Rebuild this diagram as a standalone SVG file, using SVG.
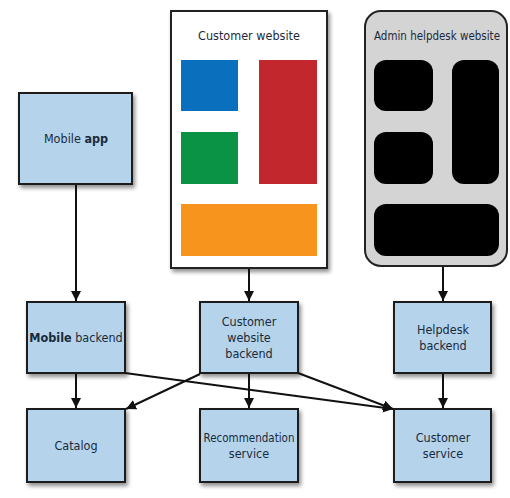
<svg xmlns="http://www.w3.org/2000/svg" width="510" height="498" viewBox="0 0 510 498">
<defs>
<marker id="arr" viewBox="0 0 10 10" refX="10" refY="5" markerWidth="10" markerHeight="10" markerUnits="userSpaceOnUse" orient="auto">
<path d="M0,0 L10,5 L0,10 z" fill="#111"/>
</marker>
<filter id="sh" x="-10%" y="-10%" width="125%" height="125%">
<feGaussianBlur in="SourceAlpha" stdDeviation="2"/>
<feOffset dx="2" dy="3"/>
<feComponentTransfer><feFuncA type="linear" slope="0.45"/></feComponentTransfer>
<feMerge><feMergeNode/><feMergeNode in="SourceGraphic"/></feMerge>
</filter>
</defs>
<style>
.box{fill:#b5d4ec;stroke:#1a1a1a;stroke-width:2;filter:url(#sh)}
.t{font-family:"DejaVu Sans Condensed","Liberation Sans",sans-serif;font-stretch:condensed;font-size:12.5px;fill:#1a2a3a;text-anchor:middle}
.b{font-weight:bold}
.c{stroke:#111;stroke-width:2;fill:none;marker-end:url(#arr)}
.blk{fill:#000}
</style>
<rect width="510" height="498" fill="#fff"/>
<g id="mobile-app"><rect class="box" x="19" y="93" width="113" height="91"/><text class="t" x="76" y="143">Mobile <tspan class="b">app</tspan></text></g>
<g id="customer-website">
<rect x="171" y="11" width="156" height="257" fill="#fff" stroke="#222" stroke-width="2" style="filter:url(#sh)"/>
<text class="t" x="249" y="40">Customer website</text>
<rect x="181" y="60" width="57" height="51" fill="#0a6fbc"/>
<rect x="259" y="60" width="58" height="124" fill="#c1272d"/>
<rect x="181" y="132" width="57" height="52" fill="#0a9345"/>
<rect x="181" y="204" width="136" height="52" fill="#f7941e"/>
</g>
<g id="admin-helpdesk-website">
<rect x="365" y="11" width="142" height="255" rx="16" fill="#d4d4d4" stroke="#222" stroke-width="2"/>
<text class="t" x="437" y="40" textLength="126" lengthAdjust="spacingAndGlyphs">Admin helpdesk website</text>
<rect class="blk" x="374" y="60" width="59" height="51" rx="12"/>
<rect class="blk" x="452" y="60" width="47" height="124" rx="12"/>
<rect class="blk" x="374" y="132" width="59" height="52" rx="12"/>
<rect class="blk" x="374" y="204" width="125" height="52" rx="12"/>
</g>
<g id="mobile-backend"><rect class="box" x="27" y="302" width="98" height="71"/><text class="t" x="76" y="342"><tspan class="b">Mobile</tspan> backend</text></g>
<g id="customer-website-backend"><rect class="box" x="200" y="302" width="98" height="71"/><text class="t" x="249" y="326">Customer</text><text class="t" x="249" y="342">website</text><text class="t" x="249" y="358">backend</text></g>
<g id="helpdesk-backend"><rect class="box" x="394" y="302" width="97" height="71"/><text class="t" x="443" y="334">Helpdesk</text><text class="t" x="443" y="350">backend</text></g>
<g id="catalog"><rect class="box" x="27" y="409" width="98" height="73"/><text class="t" x="76" y="450">Catalog</text></g>
<g id="recommendation-service"><rect class="box" x="200" y="409" width="98" height="73"/><text class="t" x="249" y="442" textLength="91" lengthAdjust="spacingAndGlyphs">Recommendation</text><text class="t" x="249" y="458">service</text></g>
<g id="customer-service"><rect class="box" x="394" y="409" width="97" height="73"/><text class="t" x="443" y="442">Customer</text><text class="t" x="443" y="458">service</text></g>
<g id="connectors">
<line class="c" x1="76" y1="185" x2="76" y2="301"/>
<line class="c" x1="249" y1="269" x2="249" y2="301"/>
<line class="c" x1="443" y1="267" x2="443" y2="301"/>
<line class="c" x1="76" y1="374" x2="76" y2="408"/>
<line class="c" x1="249" y1="374" x2="249" y2="408"/>
<line class="c" x1="443" y1="374" x2="443" y2="408"/>
<line class="c" x1="125" y1="373" x2="393" y2="409"/>
<line class="c" x1="200" y1="374" x2="126" y2="409"/>
<line class="c" x1="298" y1="373" x2="393" y2="409"/>
</g>
</svg>
